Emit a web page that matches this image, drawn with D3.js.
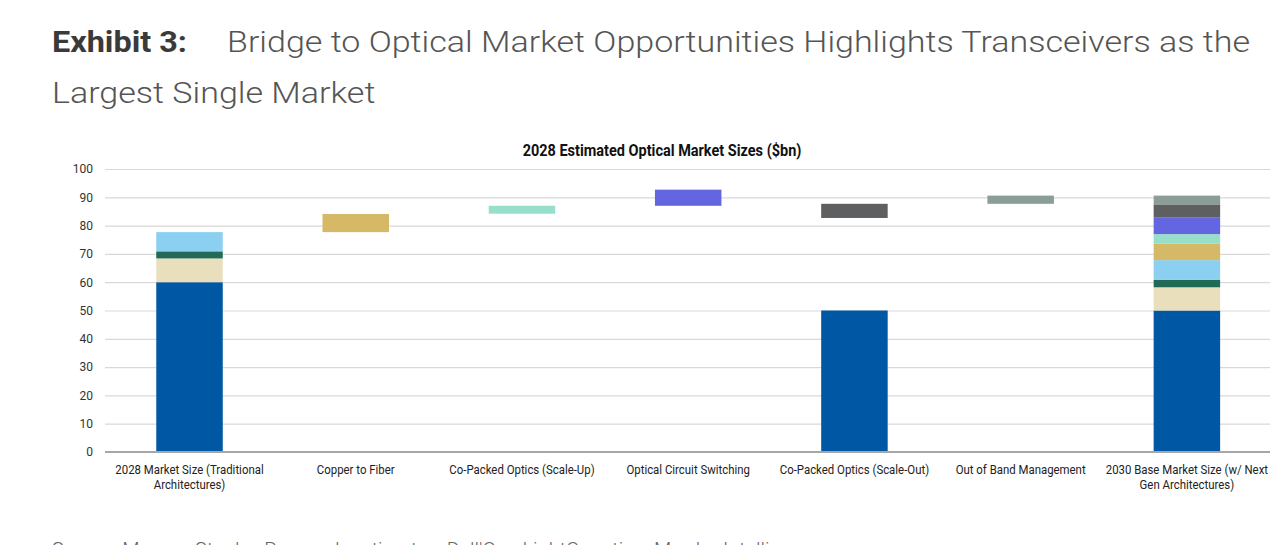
<!DOCTYPE html>
<html><head><meta charset="utf-8">
<script src="https://cdn.jsdelivr.net/npm/d3@7"></script>
<style>
html,body{margin:0;padding:0;background:#fff;}
svg{display:block;}
</style></head>
<body>
<svg id="chart" width="1280" height="545"></svg>
<script>
// ---- data ----
const categories = [
  "2028 Market Size (Traditional|Architectures)",
  "Copper to Fiber",
  "Co-Packed Optics (Scale-Up)",
  "Optical Circuit Switching",
  "Co-Packed Optics (Scale-Out)",
  "Out of Band Management",
  "2030 Base Market Size (w/ Next|Gen Architectures)"
];
const yTicks = [0,10,20,30,40,50,60,70,80,90,100];
const seriesNames = ["Transceivers","Series 2","Series 3","Series 4","Copper to Fiber","CPO Scale-Up","OCS","CPO Scale-Out","Out of Band Mgmt"];
const seriesColors = ["#0058A4","#EADFBC","#226A55","#8CD0F1","#D5B966","#98DFCB","#6465E0","#5E5F61","#8B9D97"];
// [low, high] per category, null where absent
const transceivers = [[0,60],null,null,null,[0,50],null,[0,50]];
const series2      = [[60,68.4],null,null,null,null,null,[50,58.2]];
const series3      = [[68.4,70.9],null,null,null,null,null,[58.2,60.8]];
const series4      = [[70.9,77.7],null,null,null,null,null,[60.8,67.8]];
const copperFiber  = [null,[77.7,84.1],null,null,null,null,[67.8,73.7]];
const cpoScaleUp   = [null,null,[84.2,87.0],null,null,null,[73.7,77.0]];
const ocs          = [null,null,null,[87.0,92.7],null,null,[77.0,82.8]];
const cpoScaleOut  = [null,null,null,null,[82.7,87.7],null,[82.8,87.5]];
const oobMgmt      = [null,null,null,null,null,[87.7,90.6],[87.5,90.6]];
const seriesData = [transceivers,series2,series3,series4,copperFiber,cpoScaleUp,ocs,cpoScaleOut,oobMgmt];

// ---- drawing ----
const svg = d3.select("#chart");
const plotL = 106.4, plotR = 1270, plotT = 169, plotB = 452;

const x = d3.scaleBand().domain(categories).range([plotL, plotR]).paddingInner(0.6).paddingOuter(0.3);
const y = d3.scaleLinear().domain([0,100]).range([plotB, plotT]);

// title
svg.append("text").attr("transform","translate(52,52) scale(1.08,1)")
  .style("font-family","Roboto").style("font-size","30px").style("font-weight","700").attr("fill","#3a3a3a")
  .text("Exhibit 3:");
svg.append("text").attr("transform","translate(227,52) scale(1.135,1)")
  .style("font-family","Roboto").style("font-size","30px").style("font-weight","300").attr("fill","#555")
  .text("Bridge to Optical Market Opportunities Highlights Transceivers as the");
svg.append("text").attr("transform","translate(52,102.5) scale(1.135,1)")
  .style("font-family","Roboto").style("font-size","30px").style("font-weight","300").attr("fill","#555")
  .text("Largest Single Market");

// chart title
svg.append("text").attr("text-anchor","middle")
  .attr("transform", "translate(662,155.5) scale(0.906,1)")
  .style("font-family","Roboto").style("font-size","16px").style("font-weight","700").attr("fill","#111")
  .text("2028 Estimated Optical Market Sizes ($bn)");

// gridlines + y labels
const yAxis = d3.axisLeft(y).tickValues(yTicks).tickSize(-(plotR-plotL+1.4)).tickPadding(12);
const gy = svg.append("g").attr("transform",`translate(${plotL-1.4},0)`).call(yAxis);
gy.select(".domain").remove();
gy.selectAll(".tick line").attr("stroke","#d9d9d9").attr("stroke-width",1.2);
gy.selectAll(".tick text").style("font-family","Roboto").style("font-size","12px").attr("fill","#333");

// bars
seriesData.forEach((arr, si) => {
  svg.append("g").attr("class","series").selectAll("rect")
    .data(arr.map((v,i)=>({v, c:categories[i]})).filter(d=>d.v))
    .join("rect")
    .attr("x", d=>x(d.c))
    .attr("width", x.bandwidth())
    .attr("y", d=>y(d.v[1]))
    .attr("height", d=>y(d.v[0])-y(d.v[1]))
    .attr("fill", seriesColors[si]);
});

// baseline
svg.append("line").attr("x1",plotL-1.4).attr("x2",plotR).attr("y1",y(0)).attr("y2",y(0))
  .attr("stroke","#a6a6a6").attr("stroke-width",2);

// x labels
const gx = svg.append("g");
categories.forEach(c => {
  const cx = x(c) + x.bandwidth()/2;
  const t = gx.append("text").attr("transform",`translate(${cx},473.5) scale(0.913,1)`)
    .attr("text-anchor","middle").style("font-family","Roboto").style("font-size","12.5px").attr("fill","#222");
  c.split("|").forEach((line,i)=>{
    t.append("tspan").attr("x",0).attr("dy", i===0?0:16).text(line);
  });
});

// source (cut off at bottom, as in the reference)
svg.append("text").attr("x",52).attr("y",557)
  .style("font-family","Roboto").style("font-size","20px").style("font-weight","300").attr("fill","#666")
  .text("Source: Morgan Stanley Research estimates, Dell'Oro, LightCounting, Mordor Intelligence");
</script>
</body></html>
